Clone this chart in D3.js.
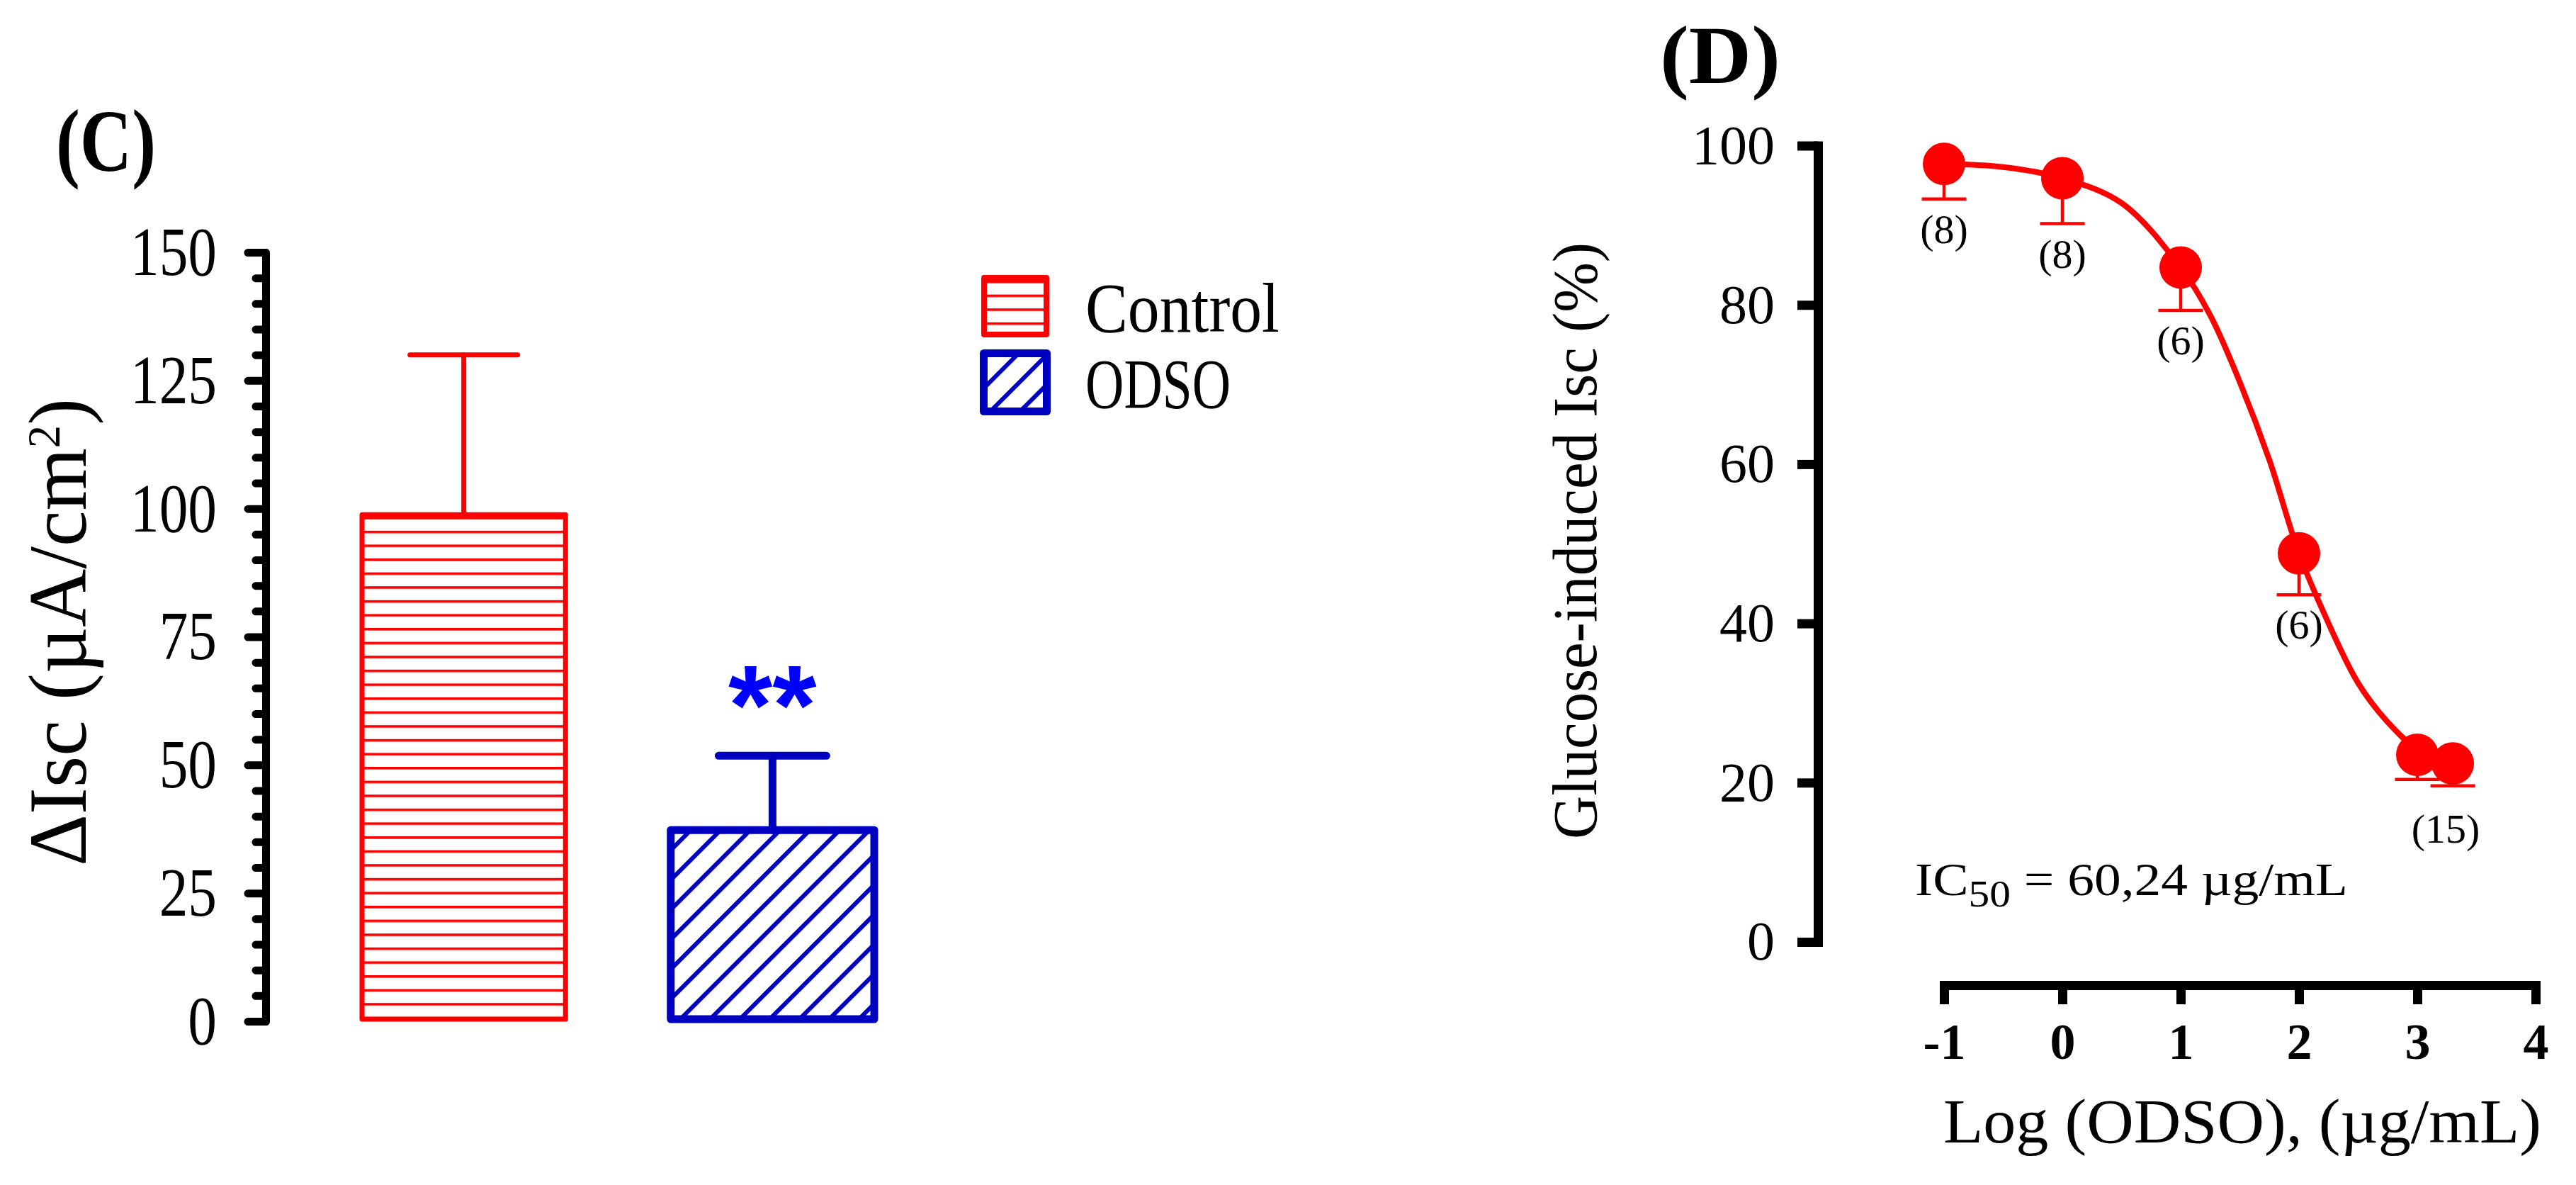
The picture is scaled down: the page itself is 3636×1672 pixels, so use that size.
<!DOCTYPE html>
<html><head><meta charset="utf-8">
<script src="https://cdn.jsdelivr.net/npm/d3@7/dist/d3.min.js"></script>
<style>
body{margin:0;background:#fff}
svg{display:block}
text{font-family:"Liberation Serif","Times New Roman",serif}
</style>
</head><body>
<svg id="chart" width="3636" height="1672"></svg>
<script>
// ---------- Panel C data ----------
const groups = ["Control", "ODSO"];
const meanIsc = [98.8, 37.3];
const errTopIsc = [130.0, 51.8];
const cMajorTicks = [0, 25, 50, 75, 100, 125, 150];
const cMinorTicks = [5,10,15,20,30,35,40,45,55,60,65,70,80,85,90,95,105,110,115,120,130,135,140,145];
const signif = ["", "**"];

// ---------- Panel D data ----------
const logDose = [-1, 0, 1, 2, 3, 3.3];
const inhibition = [97.7, 95.9, 84.7, 48.8, 23.5, 22.4];
const errLow = [93.3, 90.2, 79.3, 43.6, 20.4, 19.6];
const nLabels = ["(8)", "(8)", "(6)", "(6)", "", "(15)"];
const fitX = [-1, -0.5, 0, 0.5, 1, 1.25, 1.5, 1.75, 2, 2.25, 2.5, 2.75, 3, 3.3];
const fitY = [97.7, 97.3, 95.9, 92.8, 84.7, 78.7, 70.3, 60.5, 48.8, 40.0, 32.5, 27.6, 24.2, 22.4];
const dXTicks = [-1, 0, 1, 2, 3, 4];
const dYTicks = [0, 20, 40, 60, 80, 100];

const RED = "#FF0000", BLUE = "#0000C0", BRIGHTBLUE = "#0000FF";
const svg = d3.select("#chart");
const defs = svg.append("defs");

function squeeze(sel, f) {
  sel.each(function () {
    const L = this.getComputedTextLength();
    d3.select(this).attr("textLength", L * f).attr("lengthAdjust", "spacingAndGlyphs");
  });
}
function fitWidth(sel, w) { sel.attr("textLength", w).attr("lengthAdjust", "spacingAndGlyphs"); }

// patterns
const hp = defs.append("pattern").attr("id", "hstripe").attr("patternUnits", "userSpaceOnUse")
  .attr("width", 40).attr("height", 19.6).attr("y", 4);
hp.append("rect").attr("x", 0).attr("y", 0).attr("width", 40).attr("height", 3.6).attr("fill", RED);
const dp = defs.append("pattern").attr("id", "diag").attr("patternUnits", "userSpaceOnUse")
  .attr("width", 29.7).attr("height", 29.7).attr("patternTransform", "rotate(45)");
dp.append("rect").attr("x", 0).attr("y", 0).attr("width", 6).attr("height", 29.7).attr("fill", BLUE);

// ================= Panel C =================
const xC = d3.scaleBand().domain(groups).range([508, 1237]).paddingInner(0.327).paddingOuter(0);
const yC = d3.scaleLinear().domain([0, 150]).range([1441, 356]);
const fills = ["url(#hstripe)", "url(#diag)"];
const strokes = [RED, BLUE];
const sws = [7, 11];

// error bars
groups.forEach((g, i) => {
  const cx = xC(g) + xC.bandwidth() / 2;
  const eb = svg.append("g").attr("stroke", strokes[i]).attr("stroke-width", sws[i]).attr("stroke-linecap", "round");
  eb.append("line").attr("x1", cx).attr("x2", cx).attr("y1", yC(meanIsc[i])).attr("y2", yC(errTopIsc[i]));
  eb.append("line").attr("x1", cx - 76).attr("x2", cx + 76).attr("y1", yC(errTopIsc[i])).attr("y2", yC(errTopIsc[i]));
});
// bars
svg.append("g").selectAll("rect").data(groups).join("rect")
  .attr("x", (d) => xC(d) + 3)
  .attr("width", xC.bandwidth() - 6)
  .attr("y", (d, i) => yC(meanIsc[i]))
  .attr("height", (d, i) => yC(0) - yC(meanIsc[i]) - 3)
  .attr("fill", (d, i) => fills[i])
  .attr("stroke", (d, i) => strokes[i])
  .attr("stroke-width", (d, i) => sws[i])
  .attr("stroke-linejoin", "round");
// significance
svg.append("g").selectAll("text").data(groups).join("text")
  .attr("x", (d) => xC(d) + xC.bandwidth() / 2)
  .attr("y", (d, i) => yC(errTopIsc[i]) - 16)
  .attr("text-anchor", "middle")
  .style("font-family", "'Liberation Sans', Arial, sans-serif")
  .attr("font-weight", "bold").attr("font-size", 160).attr("fill", BRIGHTBLUE)
  .text((d, i) => signif[i]);

// y axis C
const gCminor = svg.append("g").attr("transform", "translate(375,0)")
  .call(d3.axisLeft(yC).tickValues(cMinorTicks).tickSize(14).tickFormat(() => ""));
gCminor.select(".domain").remove();
gCminor.selectAll(".tick line").attr("stroke-width", 11).attr("stroke-linecap", "round");
const gC = svg.append("g").attr("transform", "translate(375,0)")
  .call(d3.axisLeft(yC).tickValues(cMajorTicks).tickSize(25).tickPadding(44).tickSizeOuter(0));
gC.select(".domain").attr("stroke-width", 11).attr("stroke-linecap", "round");
gC.selectAll(".tick line").attr("stroke-width", 11).attr("stroke-linecap", "round");
gC.attr("font-family", null).attr("font-size", null);
gC.selectAll(".tick text").attr("font-size", 98).attr("fill", "#000").call(squeeze, 0.83);

// y title C
const tC = svg.append("text").attr("transform", "translate(121,892) rotate(-90)")
  .attr("text-anchor", "middle").attr("font-size", 116);
tC.append("tspan").text("ΔIsc (µA/cm");
tC.append("tspan").attr("font-size", 66).attr("dy", -37).text("2");
tC.append("tspan").attr("dy", 37).text(")");
fitWidth(tC, 660);

// panel label
svg.append("text").attr("x", 79).attr("y", 241).attr("font-size", 124).attr("font-weight", "bold")
  .text("(C)").call(fitWidth, 141);

// legend
svg.append("rect").attr("x", 1389).attr("y", 392).attr("width", 88).attr("height", 80)
  .attr("fill", "url(#hstripe)").attr("stroke", RED).attr("stroke-width", 8).attr("stroke-linejoin", "round");
svg.append("rect").attr("x", 1388.5).attr("y", 498.5).attr("width", 89).attr("height", 82)
  .attr("fill", "url(#diag)").attr("stroke", BLUE).attr("stroke-width", 11).attr("stroke-linejoin", "round");
svg.append("text").attr("x", 1532).attr("y", 468).attr("font-size", 100).text(groups[0]).call(fitWidth, 274);
svg.append("text").attr("x", 1532).attr("y", 575).attr("font-size", 100).text(groups[1]).call(fitWidth, 205);

// ================= Panel D =================
const xD = d3.scaleLinear().domain([-1, 4]).range([2744, 3579]);
const yD = d3.scaleLinear().domain([0, 100]).range([1329, 205.5]);

const gDy = svg.append("g").attr("transform", "translate(2566,0)")
  .call(d3.axisLeft(yD).tickValues(dYTicks).tickSize(29).tickPadding(32).tickSizeOuter(0));
gDy.select(".domain").attr("stroke-width", 13).attr("stroke-linecap", "square");
gDy.selectAll(".tick line").attr("stroke-width", 13);
gDy.attr("font-family", null).attr("font-size", null);
gDy.selectAll(".tick text").attr("font-size", 78).attr("fill", "#000");

const gDx = svg.append("g").attr("transform", "translate(0,1390)")
  .call(d3.axisBottom(xD).tickValues(dXTicks).tickSize(27).tickPadding(26).tickSizeOuter(0).tickFormat((d) => String(d)));
gDx.select(".domain").attr("stroke-width", 13).attr("stroke-linecap", "square");
gDx.selectAll(".tick line").attr("stroke-width", 13);
gDx.attr("font-family", null).attr("font-size", null);
gDx.selectAll(".tick text").attr("font-size", 72).attr("font-weight", "bold").attr("fill", "#000");

// titles
svg.append("text").attr("transform", "translate(2253,763) rotate(-90)").attr("text-anchor", "middle")
  .attr("font-size", 88).text("Glucose-induced Isc (%)").call(fitWidth, 842);
svg.append("text").attr("x", 3165).attr("y", 1612).attr("text-anchor", "middle")
  .attr("font-size", 88).text("Log (ODSO), (µg/mL)").call(fitWidth, 844);
svg.append("text").attr("x", 2343).attr("y", 117).attr("font-size", 116).attr("font-weight", "bold")
  .text("(D)").call(fitWidth, 170);

// fitted curve
const fitPts = fitX.map((x, i) => [x, fitY[i]]);
svg.append("path").datum(fitPts)
  .attr("d", d3.line().x((d) => xD(d[0])).y((d) => yD(d[1])).curve(d3.curveCatmullRom.alpha(0.5)))
  .attr("fill", "none").attr("stroke", RED).attr("stroke-width", 8);

// error bars (downward)
const pts = logDose.map((x, i) => ({ x, y: inhibition[i], lo: errLow[i], n: nLabels[i], i }));
const gE = svg.append("g").attr("stroke", RED).attr("stroke-width", 4.5);
gE.selectAll("line.v").data(pts).join("line").attr("class", "v")
  .attr("x1", (d) => xD(d.x)).attr("x2", (d) => xD(d.x))
  .attr("y1", (d) => yD(d.y)).attr("y2", (d) => yD(d.lo));
gE.selectAll("line.c").data(pts).join("line").attr("class", "c")
  .attr("x1", (d) => xD(d.x) - 31.5).attr("x2", (d) => xD(d.x) + 31.5)
  .attr("y1", (d) => yD(d.lo)).attr("y2", (d) => yD(d.lo));
// markers
svg.append("g").selectAll("circle").data(pts).join("circle")
  .attr("cx", (d) => xD(d.x)).attr("cy", (d) => yD(d.y)).attr("r", 30).attr("fill", RED);
// n labels
svg.append("g").selectAll("text").data(pts).join("text")
  .attr("x", (d) => xD(d.x) + (d.i === 5 ? -10 : 0))
  .attr("y", (d) => yD(d.lo) + (d.i === 5 ? 80 : 62))
  .attr("text-anchor", "middle").attr("font-size", 58)
  .text((d) => d.n);

// IC50 annotation
const ic = svg.append("text").attr("x", 2703).attr("y", 1263).attr("font-size", 66);
ic.append("tspan").text("IC");
ic.append("tspan").attr("font-size", 52).attr("dy", 16).text("50");
ic.append("tspan").attr("dy", -16).text(" = 60,24 µg/mL");
fitWidth(ic, 611);
</script>
</body></html>
